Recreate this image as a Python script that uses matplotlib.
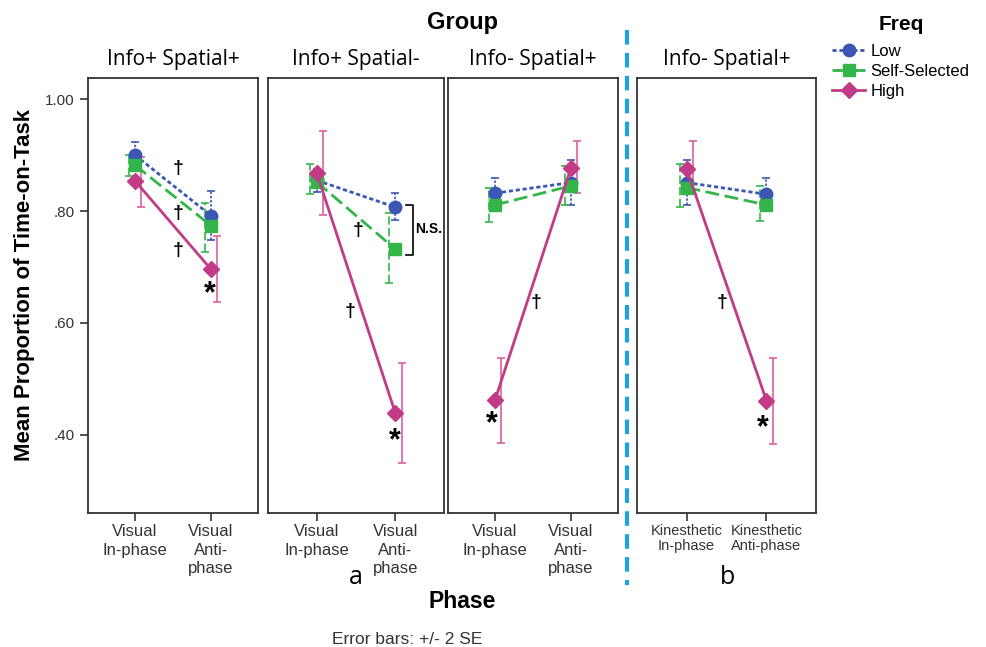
import matplotlib.pyplot as plt
from matplotlib.lines import Line2D

plt.rcParams['font.family'] = ['Liberation Sans', 'DejaVu Sans']

groups = ['Info+ Spatial+', 'Info+ Spatial-', 'Info- Spatial+', 'Info- Spatial+']
phase_labels = [['Visual\nIn-phase', 'Visual\nAnti-\nphase'],
                ['Visual\nIn-phase', 'Visual\nAnti-\nphase'],
                ['Visual\nIn-phase', 'Visual\nAnti-\nphase'],
                ['Kinesthetic\nIn-phase', 'Kinesthetic\nAnti-phase']]

# means and +/- 2 SE bounds, per group: [in-phase, anti-phase]
low_mean = [[0.900, 0.792], [0.855, 0.807], [0.832, 0.851], [0.851, 0.830]]
low_lo = [[0.877, 0.748], [0.835, 0.784], [0.805, 0.810], [0.810, 0.800]]
low_hi = [[0.923, 0.836], [0.875, 0.832], [0.859, 0.891], [0.892, 0.859]]

self_mean = [[0.882, 0.774], [0.852, 0.732], [0.811, 0.845], [0.842, 0.811]]
self_lo = [[0.862, 0.727], [0.830, 0.671], [0.781, 0.810], [0.807, 0.782]]
self_hi = [[0.900, 0.815], [0.884, 0.796], [0.841, 0.880], [0.885, 0.845]]

high_mean = [[0.854, 0.696], [0.868, 0.439], [0.462, 0.877], [0.876, 0.461]]
high_lo = [[0.807, 0.638], [0.793, 0.350], [0.386, 0.832], [0.830, 0.384]]
high_hi = [[0.896, 0.756], [0.943, 0.529], [0.538, 0.925], [0.925, 0.537]]

# significance marks: (x, y) in data coords per panel
daggers = [[(0.57, 0.877), (0.57, 0.796), (0.57, 0.730)],
           [(0.53, 0.766), (0.42, 0.620)],
           [(0.54, 0.636)],
           [(0.44, 0.637)]]
stars = [(0.99, 0.652), (0.99, 0.388), (-0.04, 0.418), (0.95, 0.412)]

c_low = '#3b56b5'
c_self = '#33b54a'
c_high = '#c23b86'
c_high_err = '#d9619e'

series = [
    ('Low', low_mean, low_lo, low_hi, c_low, c_low, 'o', 9, (0, (1.5, 1)), 0.0),
    ('Self-Selected', self_mean, self_lo, self_hi, c_self, c_self, 's', 8, (0, (5, 2)), -0.08),
    ('High', high_mean, high_lo, high_hi, c_high, c_high_err, 'D', 8.5, '-', 0.08),
]

fig = plt.figure(figsize=(9.86, 6.47), dpi=100)

lefts = [88, 268, 448, 637]
widths = [170, 176, 170, 179]
bottom = 1 - 513 / 647
height = (513 - 78) / 647

for i in range(4):
    ax = fig.add_axes([lefts[i] / 986, bottom, widths[i] / 986, height])
    x = [0, 1]
    for name, m, lo, hi, col, ecol, mk, ms, ls, off in series:
        ax.plot(x, m[i], color=col, ls=ls, lw=2, marker=mk, ms=ms, zorder=3)
        yerr = [[m[i][k] - lo[i][k] for k in range(2)], [hi[i][k] - m[i][k] for k in range(2)]]
        eb = ax.errorbar([xx + off for xx in x], m[i], yerr=yerr, fmt='none',
                         ecolor=ecol, elinewidth=1.2, capsize=3, capthick=1.2, zorder=2)
        eb[2][0].set_linestyle(ls if ls != '-' else 'solid')
    for dx, dy in daggers[i]:
        ax.text(dx, dy, '†', ha='center', va='center', fontsize=14, fontweight='bold')
    sx, sy = stars[i]
    ax.text(sx, sy, '*', ha='center', va='center', fontsize=22, fontweight='bold')
    if i == 1:
        ax.plot([1.13, 1.22, 1.22, 1.13], [0.811, 0.811, 0.721, 0.721], color='black', lw=1.2)
        ax.text(1.25, 0.768, 'N.S.', ha='left', va='center', fontsize=10, fontweight='bold')
    ax.set_xlim(-0.62, 1.62)
    ax.set_ylim(0.26, 1.038)
    ax.set_xticks(x)
    if i == 3:
        ax.set_xticklabels(phase_labels[i], fontsize=10.5, color='#333333', linespacing=1.1)
    else:
        ax.set_xticklabels(phase_labels[i], fontsize=12, color='#333333', linespacing=1.3)
    ax.tick_params(axis='x', length=6, width=1.2, color='#333333', pad=2)
    if i == 0:
        ax.set_yticks([0.4, 0.6, 0.8, 1.0])
        ax.set_yticklabels(['.40', '.60', '.80', '1.00'], fontsize=11, color='#333333')
        ax.tick_params(axis='y', length=6, width=1.2, color='#333333')
    else:
        ax.set_yticks([])
    for sp in ax.spines.values():
        sp.set_color('#333333')
        sp.set_linewidth(1.3)
    ax.set_title(groups[i], fontsize=15, family='Open Sans', pad=9)

fig.text(462 / 986, 1 - 23 / 647, 'Group', ha='center', va='center', fontsize=17, fontweight='bold')
fig.text(462 / 986, 1 - 602 / 647, 'Phase', ha='center', va='center', fontsize=16.5, fontweight='bold')
fig.text(25 / 986, 1 - 285 / 647, 'Mean Proportion of Time-on-Task', ha='center', va='center',
         rotation=90, fontsize=16, fontweight='bold')
fig.text(407 / 986, 1 - 639 / 647, 'Error bars: +/- 2 SE', ha='center', va='center', fontsize=12.5,
         color='#333333')
fig.text(356 / 986, 1 - 577 / 647, 'a', ha='center', va='center', fontsize=18, family='Open Sans')
fig.text(727 / 986, 1 - 577 / 647, 'b', ha='center', va='center', fontsize=18, family='Open Sans')

fig.add_artist(Line2D([627 / 986, 627 / 986], [1 - 30 / 647, 1 - 585 / 647], color='#1ba3e3',
                      lw=3, ls=(0, (3.5, 2))))

fig.text(901 / 986, 1 - 25 / 647, 'Freq', ha='center', va='center', fontsize=15, fontweight='bold')
handles = [Line2D([], [], color=col, ls=ls, lw=2, marker=mk, ms=ms)
           for name, m, lo, hi, col, ecol, mk, ms, ls, off in series]
fig.legend(handles, [s[0] for s in series], loc='upper left', bbox_to_anchor=(832 / 986, 1 - 44 / 647),
           frameon=False, fontsize=12, handlelength=2.0, handletextpad=0.3, labelspacing=0.3,
           borderpad=0, borderaxespad=0)

fig.savefig('out.png', dpi=100)
